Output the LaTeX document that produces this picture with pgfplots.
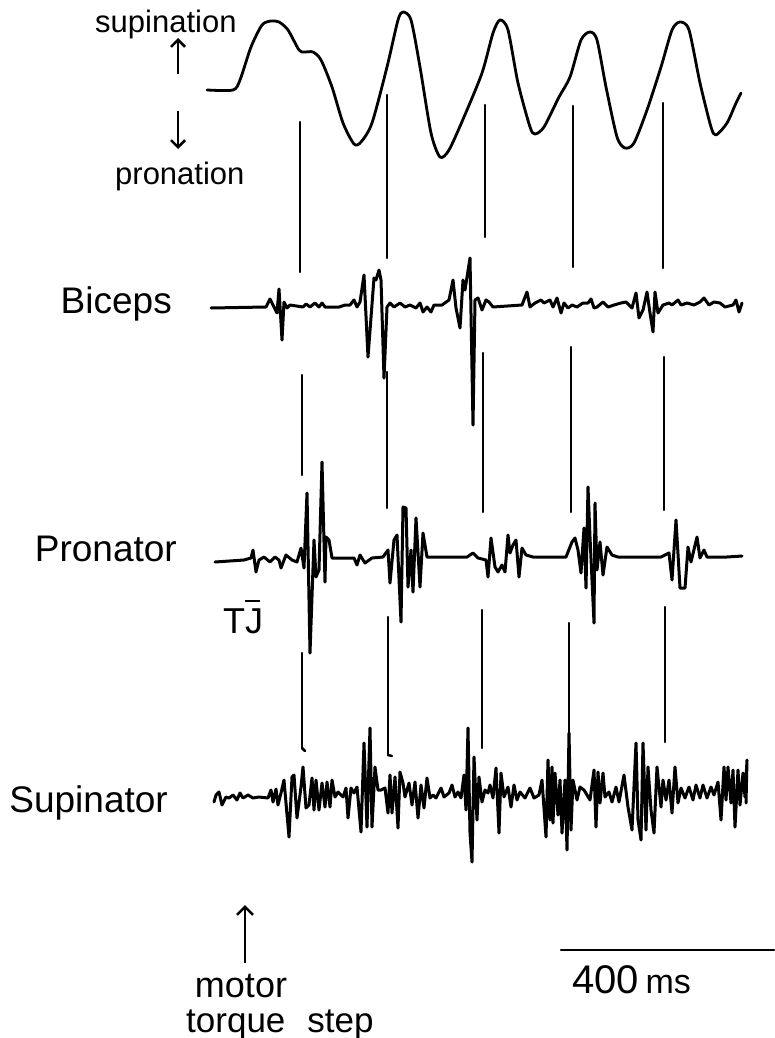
\documentclass[border=0pt]{standalone}
\usepackage{pgfplots}
\pgfplotsset{compat=1.18}
\usepackage{fontspec}
\setmainfont{Liberation Sans}
\usetikzlibrary{arrows.meta}
\begin{document}
\begin{tikzpicture}
\useasboundingbox (0,0) rectangle (774pt,1038pt);
\fill[white] (0,0) rectangle (774pt,1038pt);
\begin{axis}[at={(0,0)},anchor=south west,scale only axis,width=774pt,height=1038pt,
  xmin=0,xmax=774,ymin=0,ymax=1038,y dir=reverse,hide axis,clip=false,
  every axis plot/.append style={black,line join=round,line cap=round}]
% ---- rotation trace
\addplot[line width=2.8pt,smooth,tension=0.45] coordinates {
(207,90)(233,90)(240,80)(251,47)(262,25)(271,21)(279,22)(288,30)(299,50)(304,52)(313,52)(321,60)
(332,87)(343,123)(354,144)(361,142)(372,123)(387,67)(398,20)(403,12)(411,20)(420,67)(431,133)
(440,157)(449,150)(464,117)(482,73)(493,33)(500,20)(508,30)(518,83)(530,127)(535,134)(544,127)
(559,97)(570,77)(581,40)(590,32)(597,40)(606,87)(617,137)(625,148)(634,143)(647,110)(661,67)
(672,30)(680,22)(689,30)(700,83)(711,127)(716,135)(727,123)(736,103)(741,93)};
% ---- marker lines
\foreach \x/\a/\b in {300/122/272,387/95/258,485/105/237,573/106/267,663/103/268,
                      302/375/475,387/372/508,483/353/512,571/347/512,664/357/510,
                      302/653/748,388/617/755,482/610/748,569/623/742,665/607/742}{
  \edef\tmp{\noexpand\addplot[line width=2.5pt] coordinates {(\x,\a)(\x,\b)};}\tmp
}
\addplot[line width=2.5pt] coordinates {(302,748)(305,751)};
\addplot[line width=2.5pt] coordinates {(388,755)(392,756)};
% ---- Biceps
\addplot[line width=3pt] coordinates {
(211,308)(266,307)(270,299)(273,305)(277,313)(279,289)(282,340)(284,302)(287,308)(290,305)(303,307)
(306,304)(310,307)(315,303)(319,307)(322,303)(325,307)(339,307)(345,305)(350,305)(354,300)(357,307)
(360,302)(364,275)(368,357)(374,278)(376,280)(379,270)(381,280)(384,378)(387,307)(390,303)(394,307)
(400,303)(405,307)(410,305)(416,308)(420,303)(423,312)(427,307)(431,312)(434,305)(442,305)(449,300)
(453,280)(456,308)(460,328)(463,280)(465,290)(470,258)(473,425)(475,300)(478,298)(482,310)(486,300)
(489,302)(493,307)(522,305)(527,292)(530,307)(535,303)(541,300)(544,303)(550,300)(553,307)(557,298)
(561,313)(564,303)(568,308)(572,305)(577,307)(583,303)(588,303)(591,299)(594,308)(597,307)(603,302)
(608,307)(614,305)(621,303)(626,302)(632,308)(636,293)(639,318)(643,310)(647,292)(650,313)(653,332)
(655,292)(658,313)(663,305)(669,303)(672,305)(678,300)(681,305)(687,303)(694,305)(700,302)(704,298)
(709,305)(714,302)(720,303)(725,307)(733,305)(736,300)(739,312)(742,303)};
% ---- Pronator
\addplot[line width=3pt] coordinates {
(215,562)(244,560)(251,558)(253,550)(256,572)(259,560)(264,557)(270,562)(275,557)(279,560)(281,568)
(286,555)(292,560)(297,562)(301,548)(304,568)(307,493)(310,653)(314,540)(316,577)(319,570)(322,462)
(325,582)(326,537)(329,540)(332,558)(354,558)(357,565)(360,555)(365,563)(372,558)(383,557)(388,550)
(390,583)(394,540)(397,535)(401,622)(403,507)(406,508)(408,587)(411,550)(413,592)(416,518)(420,587)
(423,533)(427,557)(467,557)(473,553)(478,558)(486,560)(488,577)(491,538)(495,567)(498,572)(502,565)
(505,572)(508,535)(510,553)(513,545)(516,540)(519,577)(522,548)(526,555)(533,557)(566,557)(572,542)
(575,538)(578,550)(581,573)(584,528)(586,588)(588,487)(590,537)(594,623)(595,503)(597,570)(600,542)
(603,575)(607,547)(612,555)(618,557)(661,557)(669,553)(672,580)(676,520)(680,588)(685,588)(688,547)
(691,562)(697,537)(700,558)(704,550)(707,557)(727,557)(742,556)};
% ---- Supinator
\addplot[line width=3pt] coordinates {
(214,802)(216,795)(219,792)(222,805)(226,797)(229,798)(233,795)(237,800)(240,793)(243,798)(248,795)
(253,798)(259,797)(268,798)(271,790)(273,802)(276,789)(278,805)(281,793)(284,780)(286,803)(289,837)
(292,777)(294,775)(297,818)(301,787)(303,767)(306,808)(309,805)(312,778)(314,810)(316,780)(319,810)
(322,783)(325,807)(327,782)(330,807)(332,780)(335,797)(338,792)(343,797)(346,788)(348,818)(351,788)
(354,793)(357,787)(361,832)(364,743)(367,827)(370,728)(372,827)(375,767)(378,790)(381,790)(385,788)
(388,813)(390,775)(392,813)(395,777)(398,828)(400,772)(403,783)(405,797)(409,783)(412,805)(415,782)
(418,818)(421,785)(424,808)(427,778)(430,798)(433,795)(436,798)(441,788)(444,797)(449,793)(452,785)
(455,797)(458,792)(461,798)(464,775)(466,810)(468,728)(470,833)(472,862)(474,757)(477,820)(479,777)
(482,802)(485,790)(488,793)(490,785)(493,798)(496,768)(499,833)(501,773)(504,797)(508,787)(511,807)
(514,785)(517,800)(520,792)(525,798)(530,788)(534,798)(539,795)(542,780)(546,837)(548,760)(550,820)
(552,767)(553,823)(555,773)(558,815)(560,780)(562,833)(565,780)(567,850)(569,733)(571,830)(573,780)
(577,800)(580,787)(584,790)(590,800)(594,770)(596,827)(598,772)(600,803)(603,773)(605,797)(609,792)
(612,802)(616,787)(619,802)(624,775)(628,807)(632,830)(636,743)(638,820)(641,840)(643,743)(646,830)
(648,767)(651,810)(654,833)(657,767)(661,807)(663,780)(666,800)(669,780)(672,813)(675,767)(678,803)
(681,788)(685,798)(689,787)(693,800)(696,785)(700,798)(703,785)(707,798)(711,787)(714,795)(718,782)
(721,820)(724,767)(726,800)(728,767)(731,803)(733,770)(735,827)(738,770)(740,805)(743,773)(745,797)
(747,760)(746,803)};
% ---- scale bar
\addplot[line width=2.2pt] coordinates {(561,950)(774,950)};
% ---- labels
\node[anchor=base west,font=\fontsize{31}{33}\selectfont,inner sep=0] at (axis cs:95,33) {supination};
\node[anchor=base west,font=\fontsize{31}{33}\selectfont,inner sep=0] at (axis cs:115,184) {pronation};
\draw[line width=2.5pt,-{Straight Barb[length=7pt,width=14pt]}] (axis cs:178,74) -- (axis cs:178,38);
\draw[line width=2.5pt,-{Straight Barb[length=7pt,width=14pt]}] (axis cs:178,111) -- (axis cs:178,149);
\node[anchor=base east,font=\fontsize{37}{40}\selectfont,inner sep=0] at (axis cs:172,313) {Biceps};
\node[anchor=base east,font=\fontsize{37}{40}\selectfont,inner sep=0] at (axis cs:177,561) {Pronator};
\node[anchor=base east,font=\fontsize{37}{40}\selectfont,inner sep=0] at (axis cs:168,812) {Supinator};
\node[anchor=base west,font=\fontsize{36}{38}\selectfont,inner sep=0] at (axis cs:223,633) {TJ};
\draw[line width=2.2pt] (axis cs:245,601) -- (axis cs:260,601);
\draw[line width=2.5pt,-{Straight Barb[length=8pt,width=16pt]}] (axis cs:245,963) -- (axis cs:245,905);
\node[anchor=base,font=\fontsize{36}{38}\selectfont,inner sep=0] at (axis cs:241,997) {motor};
\node[anchor=base west,font=\fontsize{35}{37}\selectfont,inner sep=0] at (axis cs:186,1032) {torque\hspace{22pt}step};
\node[anchor=base west,font=\fontsize{40}{42}\selectfont,inner sep=0] at (axis cs:572,993) {400\,{\fontsize{34}{36}\selectfont ms}};
\end{axis}
\end{tikzpicture}
\end{document}
